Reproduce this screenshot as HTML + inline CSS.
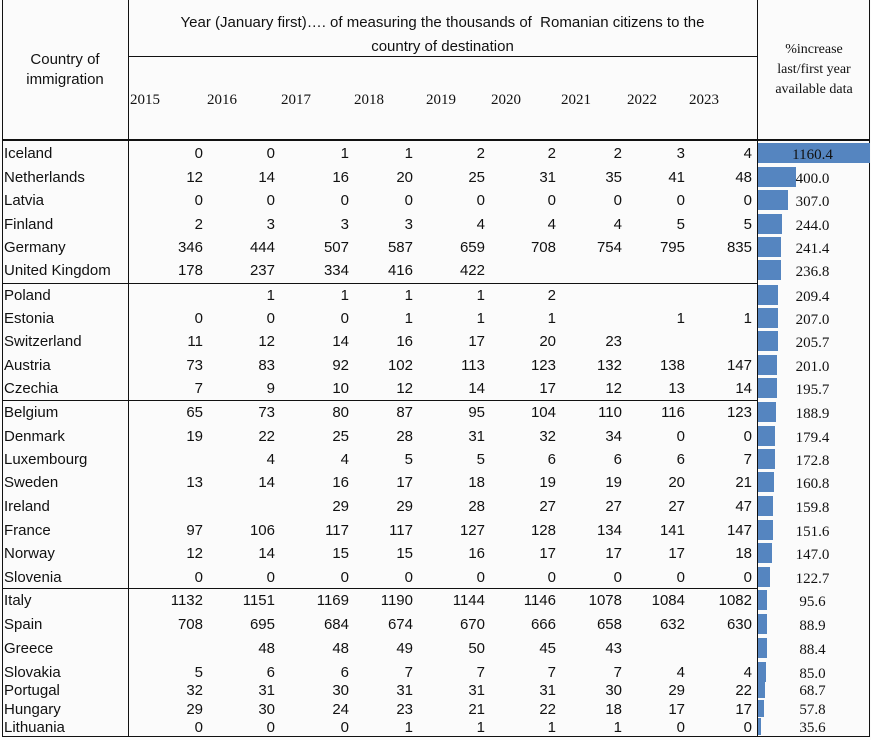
<!DOCTYPE html>
<html><head><meta charset="utf-8"><style>
body{margin:0;width:871px;height:740px;background:#fbfbfb;position:relative;overflow:hidden;font-family:"Liberation Sans Narrow","Liberation Sans",sans-serif;color:#111}
.l{position:absolute;background:#111}
.r{position:absolute;left:0;width:871px;height:22px;font-size:15px}
.r span{position:absolute;top:1px;line-height:22px;text-align:right;width:60px}
.r .n{left:4px;text-align:left;width:120px}
.c1{left:143px}.c2{left:215px}.c3{left:289px}.c4{left:353px}.c5{left:425px}.c6{left:496px}.c7{left:562px}.c8{left:625px}.c9{left:692px}
.b{position:absolute;left:758px;top:1px;height:20px;background:#5585c0}
.r .p{left:770px;width:85px;text-align:center;font-family:"Liberation Serif",serif;font-size:15px;top:2px}
.h{position:absolute;font-size:15px;text-align:center}
.y{position:absolute;top:92px;font-family:"Liberation Serif",serif;font-size:15px}
</style></head><body>
<div class="l" style="left:2px;top:0;width:1px;height:737px"></div>
<div class="l" style="left:869px;top:0;width:1px;height:737px"></div>
<div class="l" style="left:128px;top:0;width:1px;height:737px"></div>
<div class="l" style="left:757px;top:0;width:1px;height:737px"></div>
<div class="l" style="left:128px;top:56px;width:629px;height:1px"></div>
<div class="l" style="left:2px;top:139px;width:868px;height:2px"></div>
<div class="l" style="left:2px;top:283px;width:755px;height:1px"></div>
<div class="l" style="left:2px;top:400px;width:755px;height:1px"></div>
<div class="l" style="left:2px;top:588px;width:755px;height:1px"></div>
<div class="l" style="left:2px;top:736px;width:868px;height:1px"></div>
<div class="h" style="left:5px;top:50px;width:120px;line-height:20px">Country of<br>immigration</div>
<div class="h" style="left:135px;top:11px;width:615px;line-height:24px">Year (January first)…. of measuring the thousands of&nbsp; Romanian citizens to the<br>country of destination</div>
<div class="h" style="left:760px;top:40px;width:108px;line-height:20px;font-family:'Liberation Serif',serif;font-size:14px">%increase<br>last/first year<br>available data</div>
<div class="y" style="left:130px">2015</div><div class="y" style="left:207px">2016</div><div class="y" style="left:281px">2017</div><div class="y" style="left:354px">2018</div><div class="y" style="left:426px">2019</div><div class="y" style="left:491px">2020</div><div class="y" style="left:561px">2021</div><div class="y" style="left:627px">2022</div><div class="y" style="left:689px">2023</div>

<div class="r" style="top:142px"><span class="n">Iceland</span><span class="c1">0</span><span class="c2">0</span><span class="c3">1</span><span class="c4">1</span><span class="c5">2</span><span class="c6">2</span><span class="c7">2</span><span class="c8">3</span><span class="c9">4</span><div class="b" style="width:112px"></div><span class="p">1160.4</span></div>
<div class="r" style="top:166px"><span class="n">Netherlands</span><span class="c1">12</span><span class="c2">14</span><span class="c3">16</span><span class="c4">20</span><span class="c5">25</span><span class="c6">31</span><span class="c7">35</span><span class="c8">41</span><span class="c9">48</span><div class="b" style="width:38px"></div><span class="p">400.0</span></div>
<div class="r" style="top:189px"><span class="n">Latvia</span><span class="c1">0</span><span class="c2">0</span><span class="c3">0</span><span class="c4">0</span><span class="c5">0</span><span class="c6">0</span><span class="c7">0</span><span class="c8">0</span><span class="c9">0</span><div class="b" style="width:30px"></div><span class="p">307.0</span></div>
<div class="r" style="top:213px"><span class="n">Finland</span><span class="c1">2</span><span class="c2">3</span><span class="c3">3</span><span class="c4">3</span><span class="c5">4</span><span class="c6">4</span><span class="c7">4</span><span class="c8">5</span><span class="c9">5</span><div class="b" style="width:24px"></div><span class="p">244.0</span></div>
<div class="r" style="top:236px"><span class="n">Germany</span><span class="c1">346</span><span class="c2">444</span><span class="c3">507</span><span class="c4">587</span><span class="c5">659</span><span class="c6">708</span><span class="c7">754</span><span class="c8">795</span><span class="c9">835</span><div class="b" style="width:23px"></div><span class="p">241.4</span></div>
<div class="r" style="top:259px"><span class="n">United Kingdom</span><span class="c1">178</span><span class="c2">237</span><span class="c3">334</span><span class="c4">416</span><span class="c5">422</span><div class="b" style="width:23px"></div><span class="p">236.8</span></div>
<div class="r" style="top:284px"><span class="n">Poland</span><span class="c2">1</span><span class="c3">1</span><span class="c4">1</span><span class="c5">1</span><span class="c6">2</span><div class="b" style="width:20px"></div><span class="p">209.4</span></div>
<div class="r" style="top:307px"><span class="n">Estonia</span><span class="c1">0</span><span class="c2">0</span><span class="c3">0</span><span class="c4">1</span><span class="c5">1</span><span class="c6">1</span><span class="c8">1</span><span class="c9">1</span><div class="b" style="width:20px"></div><span class="p">207.0</span></div>
<div class="r" style="top:330px"><span class="n">Switzerland</span><span class="c1">11</span><span class="c2">12</span><span class="c3">14</span><span class="c4">16</span><span class="c5">17</span><span class="c6">20</span><span class="c7">23</span><div class="b" style="width:20px"></div><span class="p">205.7</span></div>
<div class="r" style="top:354px"><span class="n">Austria</span><span class="c1">73</span><span class="c2">83</span><span class="c3">92</span><span class="c4">102</span><span class="c5">113</span><span class="c6">123</span><span class="c7">132</span><span class="c8">138</span><span class="c9">147</span><div class="b" style="width:19px"></div><span class="p">201.0</span></div>
<div class="r" style="top:377px"><span class="n">Czechia</span><span class="c1">7</span><span class="c2">9</span><span class="c3">10</span><span class="c4">12</span><span class="c5">14</span><span class="c6">17</span><span class="c7">12</span><span class="c8">13</span><span class="c9">14</span><div class="b" style="width:19px"></div><span class="p">195.7</span></div>
<div class="r" style="top:401px"><span class="n">Belgium</span><span class="c1">65</span><span class="c2">73</span><span class="c3">80</span><span class="c4">87</span><span class="c5">95</span><span class="c6">104</span><span class="c7">110</span><span class="c8">116</span><span class="c9">123</span><div class="b" style="width:18px"></div><span class="p">188.9</span></div>
<div class="r" style="top:425px"><span class="n">Denmark</span><span class="c1">19</span><span class="c2">22</span><span class="c3">25</span><span class="c4">28</span><span class="c5">31</span><span class="c6">32</span><span class="c7">34</span><span class="c8">0</span><span class="c9">0</span><div class="b" style="width:17px"></div><span class="p">179.4</span></div>
<div class="r" style="top:448px"><span class="n">Luxembourg</span><span class="c2">4</span><span class="c3">4</span><span class="c4">5</span><span class="c5">5</span><span class="c6">6</span><span class="c7">6</span><span class="c8">6</span><span class="c9">7</span><div class="b" style="width:17px"></div><span class="p">172.8</span></div>
<div class="r" style="top:471px"><span class="n">Sweden</span><span class="c1">13</span><span class="c2">14</span><span class="c3">16</span><span class="c4">17</span><span class="c5">18</span><span class="c6">19</span><span class="c7">19</span><span class="c8">20</span><span class="c9">21</span><div class="b" style="width:16px"></div><span class="p">160.8</span></div>
<div class="r" style="top:495px"><span class="n">Ireland</span><span class="c3">29</span><span class="c4">29</span><span class="c5">28</span><span class="c6">27</span><span class="c7">27</span><span class="c8">27</span><span class="c9">47</span><div class="b" style="width:15px"></div><span class="p">159.8</span></div>
<div class="r" style="top:519px"><span class="n">France</span><span class="c1">97</span><span class="c2">106</span><span class="c3">117</span><span class="c4">117</span><span class="c5">127</span><span class="c6">128</span><span class="c7">134</span><span class="c8">141</span><span class="c9">147</span><div class="b" style="width:15px"></div><span class="p">151.6</span></div>
<div class="r" style="top:542px"><span class="n">Norway</span><span class="c1">12</span><span class="c2">14</span><span class="c3">15</span><span class="c4">15</span><span class="c5">16</span><span class="c6">17</span><span class="c7">17</span><span class="c8">17</span><span class="c9">18</span><div class="b" style="width:14px"></div><span class="p">147.0</span></div>
<div class="r" style="top:566px"><span class="n">Slovenia</span><span class="c1">0</span><span class="c2">0</span><span class="c3">0</span><span class="c4">0</span><span class="c5">0</span><span class="c6">0</span><span class="c7">0</span><span class="c8">0</span><span class="c9">0</span><div class="b" style="width:12px"></div><span class="p">122.7</span></div>
<div class="r" style="top:589px"><span class="n">Italy</span><span class="c1">1132</span><span class="c2">1151</span><span class="c3">1169</span><span class="c4">1190</span><span class="c5">1144</span><span class="c6">1146</span><span class="c7">1078</span><span class="c8">1084</span><span class="c9">1082</span><div class="b" style="width:9px"></div><span class="p">95.6</span></div>
<div class="r" style="top:613px"><span class="n">Spain</span><span class="c1">708</span><span class="c2">695</span><span class="c3">684</span><span class="c4">674</span><span class="c5">670</span><span class="c6">666</span><span class="c7">658</span><span class="c8">632</span><span class="c9">630</span><div class="b" style="width:9px"></div><span class="p">88.9</span></div>
<div class="r" style="top:637px"><span class="n">Greece</span><span class="c2">48</span><span class="c3">48</span><span class="c4">49</span><span class="c5">50</span><span class="c6">45</span><span class="c7">43</span><div class="b" style="width:9px"></div><span class="p">88.4</span></div>
<div class="r" style="top:661px"><span class="n">Slovakia</span><span class="c1">5</span><span class="c2">6</span><span class="c3">6</span><span class="c4">7</span><span class="c5">7</span><span class="c6">7</span><span class="c7">7</span><span class="c8">4</span><span class="c9">4</span><div class="b" style="width:8px"></div><span class="p">85.0</span></div>
<div class="r" style="top:680px;height:19px"><span class="n" style="line-height:19px">Portugal</span><span class="c1" style="line-height:19px">32</span><span class="c2" style="line-height:19px">31</span><span class="c3" style="line-height:19px">30</span><span class="c4" style="line-height:19px">31</span><span class="c5" style="line-height:19px">31</span><span class="c6" style="line-height:19px">31</span><span class="c7" style="line-height:19px">30</span><span class="c8" style="line-height:19px">29</span><span class="c9" style="line-height:19px">22</span><div class="b" style="width:7px;height:17px"></div><span class="p" style="line-height:19px">68.7</span></div>
<div class="r" style="top:699px;height:19px"><span class="n" style="line-height:19px">Hungary</span><span class="c1" style="line-height:19px">29</span><span class="c2" style="line-height:19px">30</span><span class="c3" style="line-height:19px">24</span><span class="c4" style="line-height:19px">23</span><span class="c5" style="line-height:19px">21</span><span class="c6" style="line-height:19px">22</span><span class="c7" style="line-height:19px">18</span><span class="c8" style="line-height:19px">17</span><span class="c9" style="line-height:19px">17</span><div class="b" style="width:6px;height:17px"></div><span class="p" style="line-height:19px">57.8</span></div>
<div class="r" style="top:717px;height:19px"><span class="n" style="line-height:19px">Lithuania</span><span class="c1" style="line-height:19px">0</span><span class="c2" style="line-height:19px">0</span><span class="c3" style="line-height:19px">0</span><span class="c4" style="line-height:19px">1</span><span class="c5" style="line-height:19px">1</span><span class="c6" style="line-height:19px">1</span><span class="c7" style="line-height:19px">1</span><span class="c8" style="line-height:19px">0</span><span class="c9" style="line-height:19px">0</span><div class="b" style="width:3px;height:17px"></div><span class="p" style="line-height:19px">35.6</span></div>
</body></html>
